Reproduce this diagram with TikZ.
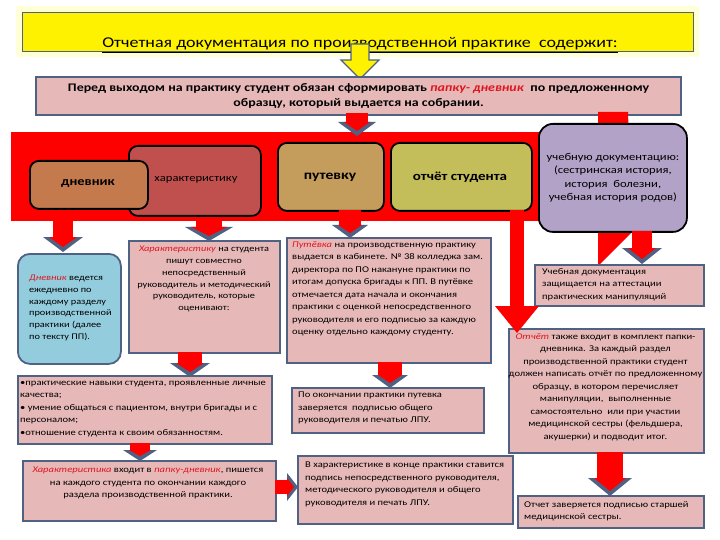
\documentclass[tikz,border=0pt]{standalone}
\usepackage{fontspec}
\setmainfont[FakeStretch=1.2]{Carlito}
\usetikzlibrary{calc}
\definecolor{pinkf}{HTML}{E6B9B8}
\definecolor{edgeb}{HTML}{4F6283}
\definecolor{bluef}{HTML}{93CDDD}
\definecolor{dnevf}{HTML}{C47A4C}
\definecolor{harf}{HTML}{C0504D}
\definecolor{putf}{HTML}{C49C5C}
\definecolor{otchf}{HTML}{C3BD5A}
\definecolor{uchf}{HTML}{B3A2C7}
\definecolor{redtxt}{HTML}{E0141E}
\definecolor{yglow}{HTML}{FFFFD8}
\newcommand\fs[2]{\fontsize{#1}{#2}\selectfont}
\newcommand\ri[1]{\textcolor{redtxt}{\textit{#1}}}
% x, ytop, ytip, half shaft, half head, head length
\newcommand\downblk[6]{%
  \fill[red] ({#1-#4},#2) rectangle ({#1+#4},{#3-#6});
  \fill[edgeb] ({#1-#5},{#3-#6}) -- ({#1+#5},{#3-#6}) -- (#1,#3) -- cycle;
  \fill[red] ({#1-#5+6},{#3-#6}) -- ({#1+#5-6},{#3-#6}) -- (#1,{#3-5}) -- cycle;
}
\begin{document}
\begin{tikzpicture}[x=1pt,y=-1pt,
  pbox/.style={draw=edgeb, line width=2.2pt, fill=pinkf, inner sep=0pt, anchor=north west},
  rbox/.style={draw=black, line width=1.8pt, rounded corners=9pt, inner sep=0pt, anchor=north west},
  txt/.style={inner sep=0pt, font=\fs{8.8}{12.5}},
  txtb/.style={inner sep=0pt, font=\fs{8.6}{11.8}}]
\useasboundingbox (0,0) rectangle (720,540);
\fill[white] (0,0) rectangle (720,540);

% title
\fill[yglow] (16,6) rectangle (699,57);
\node[draw=edgeb, line width=1.4pt, fill=yellow, inner sep=0pt, anchor=north west,
  minimum width=671pt, minimum height=39pt] (title) at (22,12) {};
\node[inner sep=0pt, anchor=base, font=\fs{15}{18}] (titletext) at (360,48)
  {\underline{Отчетная документация по производственной практике\ \ содержит:}};

% yellow arrow
\draw[edgeb, line width=1.2pt, fill=yellow] (351,44) -- (369,44) -- (369,60) -- (379,60)
  -- (360,79) -- (341,60) -- (351,60) -- cycle;

% top pink box
\node[pbox, minimum width=645pt, minimum height=38pt] (intro) at (35,76) {};
\node[inner sep=0pt, align=center, font=\bfseries\fs{11.6}{15}] (introtext) at (intro.center)
  {Перед выходом на практику студент обязан сформировать \ri{папку- дневник}\ \ по предложенному\\
   образцу, который выдается на собрании.};

% red diagonal arrow behind purple box
\fill[red] (598,112) -- (628,112) -- (632,232) -- (598,266) -- cycle;

% red band
\node[fill=red, inner sep=0pt, anchor=north west, minimum width=549pt, minimum height=89pt] (band) at (11,132) {};

% band boxes
\node[rbox, fill=harf, minimum width=132pt, minimum height=70pt] (har) at (128,145) {};
\node[inner sep=0pt, font=\fs{10.5}{12}] (hartext) at (196,180) {характеристику};
\node[rbox, fill=dnevf, minimum width=118pt, minimum height=48pt] (dnev) at (29,160) {};
\node[inner sep=0pt, font=\bfseries\fs{12}{14}] (dnevtext) at (88,184) {дневник};
\node[rbox, fill=putf, minimum width=106pt, minimum height=68pt] (put) at (277,142) {};
\node[inner sep=0pt, font=\bfseries\fs{13}{15}] (puttext) at (330,177) {путевку};
\node[rbox, fill=otchf, minimum width=141pt, minimum height=68pt] (otch) at (390,142) {};
\node[inner sep=0pt, font=\bfseries\fs{12.5}{15}] (otchtext) at (460,177) {отчёт студента};
\node[rbox, fill=uchf, minimum width=148pt, minimum height=108pt, rounded corners=14pt] (uch) at (538,123) {};
\node[inner sep=0pt, align=center, font=\fs{10.5}{13.5}] (uchtext) at (uch.center)
  {учебную документацию:\\(сестринская история,\\история\ \ болезни,\\учебная история родов)};

% arrow pink -> band
\downblk{357}{113}{136}{11}{19}{14}

% lower boxes
\node[draw=edgeb, line width=1.8pt, fill=bluef, rounded corners=12pt, inner sep=0pt, anchor=north west,
  minimum width=103pt, minimum height=110pt] (dnevbox) at (17,253) {};
\node[txtb, anchor=west, align=left] (dnevboxtext) at (29,308)
  {\ri{Дневник} ведется\\ежедневно по\\каждому разделу\\производственной\\практики (далее\\по тексту ПП).};

\node[pbox, minimum width=151pt, minimum height=112pt] (harbox) at (128,240) {};
\node[txtb, anchor=north, align=center] (harboxtext) at (204,246)
  {\ri{Характеристику} на студента\\пишут совместно\\непосредственный\\руководитель и методический\\руководитель, которые\\оценивают:};

\node[pbox, minimum width=204pt, minimum height=125pt] (putbox) at (286,237) {};
\node[txt, anchor=north west, align=left] (putboxtext) at (292,241)
  {\ri{Путёвка} на производственную практику\\выдается в кабинете. № 38 колледжа зам.\\директора по ПО накануне практики по\\итогам допуска бригады к ПП. В путёвке\\отмечается дата начала и окончания\\практики с оценкой непосредственного\\руководителя и его подписью за каждую\\оценку отдельно каждому студенту.};

\node[pbox, minimum width=169pt, minimum height=41pt] (uchbox) at (534,264) {};
\node[txt, anchor=west, align=left] (uchboxtext) at (542,284.5)
  {Учебная документация\\защищается на аттестации\\практических манипуляций};

\node[pbox, minimum width=195pt, minimum height=124pt] (otchbox) at (508,328) {};
\node[txt, anchor=north, align=center] (otchboxtext) at (605.5,333)
  {\ri{Отчёт} также входит в комплект папки-\\дневника. За каждый раздел\\производственной практики студент\\должен написать отчёт по предложенному\\образцу, в котором перечисляет\\манипуляции,\ \ выполненные\\самостоятельно\ \ или при участии\\медицинской сестры (фельдшера,\\акушерки) и подводит итог.};

\node[pbox, minimum width=254pt, minimum height=68pt] (bulbox) at (17,375) {};
\node[txt, anchor=north west, align=left] (bulboxtext) at (20,381)
  {•практические навыки студента, проявленные личные\\качества;\\• умение общаться с пациентом, внутри бригады и с\\персоналом;\\•отношение студента к своим обязанностям.};

\node[pbox, minimum width=253pt, minimum height=60pt] (harbox2) at (22,460) {};
\node[txt, anchor=north, align=center] (harbox2text) at (148,467)
  {\ri{Характеристика} входит в \ri{папку-дневник}, пишется\\на каждого студента по окончании каждого\\раздела производственной практики.};

\node[pbox, minimum width=192pt, minimum height=45pt] (putbox2) at (291,387) {};
\node[txt, anchor=north west, align=left] (putbox2text) at (298,392)
  {По окончании практики путевка\\заверяется\ \ подписью общего\\руководителя и печатью ЛПУ.};

\node[pbox, minimum width=215pt, minimum height=68pt] (harbox3) at (297,455) {};
\node[txt, anchor=north west, align=left] (harbox3text) at (305,462)
  {В характеристике в конце практики ставится\\подпись непосредственного руководителя,\\методического руководителя и общего\\руководителя и печать ЛПУ.};

\node[pbox, minimum width=186pt, minimum height=32pt] (otchbox2) at (517,495) {};
\node[txt, anchor=west, align=left] (otchbox2text) at (524,511)
  {Отчет заверяется подписью старшей\\медицинской сестры.};

% arrows
\downblk{63}{221}{252}{10}{20}{15}
\downblk{209}{221}{241}{13}{24}{14}
\downblk{350}{210}{238}{11}{18}{13}
\fill[red] (510,210) rectangle (524,306);
\fill[red] (495,306) -- (539,306) -- (517,333) -- cycle;
\downblk{642}{231}{264}{10}{20}{16}
\downblk{190}{352}{377}{12}{20}{14}
\downblk{140}{443}{461}{10}{17}{11}
\downblk{390}{362}{388}{12}{18}{13}
\downblk{610}{452}{496}{13}{22}{18}
% right arrow
\fill[red] (275,480) rectangle (287,494);
\fill[edgeb] (287,473) -- (287,501) -- (298,487) -- cycle;
\fill[red] (287,478) -- (287,496) -- (294,487) -- cycle;
\end{tikzpicture}
\end{document}
